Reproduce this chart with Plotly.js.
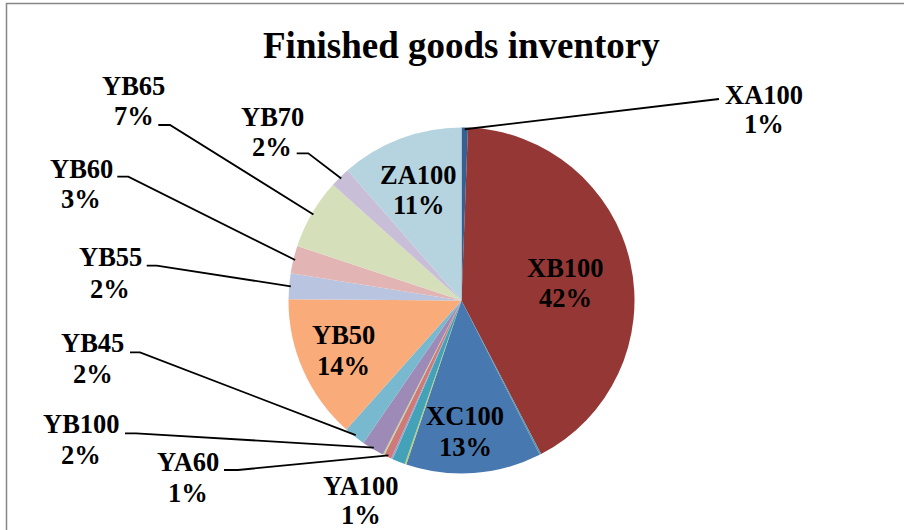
<!DOCTYPE html>
<html>
<head>
<meta charset="utf-8">
<script src="https://cdn.plot.ly/plotly-3.0.1.min.js"></script>
<style>html,body{margin:0;padding:0;background:#fff;}#chart{width:904px;height:530px;}</style>
</head>
<body>
<div id="chart"></div>
<script>
// ---- data ----
const chartTitle = 'Finished goods inventory';
const categories = ['XA100','XB100','sliver 1','XC100','sliver 2','YA100','sliver 3','YA60','sliver 4','YB100','YB45','YB50','YB55','YB60','YB65','YB70','ZA100'];
const shares =     [0.6,    42.0,   0.15,      12.7,   0.15,      1.2,    0.15,      0.7,   0.15,      2.1,    2.0,   13.6,   2.4,   2.6,   6.6,   1.9,   11.5];
const sliceColors = ['#376092','#953735','#4F97AE','#4878B0','#B9CD74','#43A2B7','#8EA6D6','#CF7A78','#C4D39B','#9D8AB6','#78B9CF','#F9AC7A','#B9C5E0','#E2B5B4','#D5DFBA','#C9BED8','#B6D4E0'];
const labelledCategories = ['XA100','XB100','XC100','YA100','YA60','YB100','YB45','YB50','YB55','YB60','YB65','YB70','ZA100'];

// ---- layout helpers (pixel positions of label text; leader start points) ----
const W = 904, H = 530;
const CX = 461.5, CY = 300.5, R = 173;
const FONT = '"Times New Roman", "Liberation Serif", serif';
const labelPlace = {
  XA100: {x:764,   b1:104,   b2:133,   lead:[719,99, 719,99]},
  XB100: {x:565,   b1:277,   b2:307},
  XC100: {x:465.5, b1:425,   b2:456.5},
  YA100: {x:361,   b1:495,   b2:524},
  YA60:  {x:188.3, b1:471.7, b2:502.7, lead:[224,470, 238,470]},
  YB100: {x:81.3,  b1:433.3, b2:464.3, lead:[125,433.3, 136,433.3]},
  YB45:  {x:92.5,  b1:352.7, b2:383,   lead:[130,352.3, 140,352.3]},
  YB50:  {x:343,   b1:344,   b2:375},
  YB55:  {x:110,   b1:266.7, b2:298.3, lead:[146.7,265.7, 156.7,265.7]},
  YB60:  {x:81,    b1:178.3, b2:208,   lead:[117.3,176.7, 128.3,176.7]},
  YB65:  {x:133.5, b1:95,    b2:125,   lead:[158.3,125, 170,125]},
  YB70:  {x:272,   b1:126,   b2:156,   lead:[296.7,153.3, 308.3,153.3]},
  ZA100: {x:418.5, b1:184,   b2:214}
};
const FS = 26.5;
const px = x => x / W;
const py = y => 1 - y / H;

const total = shares.reduce((a, b) => a + b, 0);
const annotations = [];
const shapes = [];

// title
annotations.push({
  text: '<b>' + chartTitle + '</b>', xref:'paper', yref:'paper', x: px(461), y: py(46),
  xanchor:'center', yanchor:'middle', showarrow:false,
  font:{family:FONT, size:37, color:'#000'}
});

let cum = 0;
categories.forEach((cat, i) => {
  const v = shares[i];
  const midAng = (cum + v / 2) / total * 2 * Math.PI;
  cum += v;
  if (!labelledCategories.includes(cat)) return;
  const p = labelPlace[cat];
  const pct = Math.round(v / total * 100) + '%';
  const f = {family:FONT, size:FS, color:'#000'};
  annotations.push({text:'<b>' + cat + '</b>', xref:'paper', yref:'paper', x:px(p.x), y:py(p.b1 - 0.35*FS),
    xanchor:'center', yanchor:'middle', showarrow:false, font:f});
  annotations.push({text:'<b>' + pct + '</b>', xref:'paper', yref:'paper', x:px(p.x), y:py(p.b2 - 0.35*FS),
    xanchor:'center', yanchor:'middle', showarrow:false, font:f});
  if (p.lead) {
    const ex = CX + R * 0.99 * Math.sin(midAng);
    const ey = CY - R * 0.99 * Math.cos(midAng);
    const [x0, y0, x1, y1] = p.lead;
    shapes.push({type:'path', xref:'paper', yref:'paper',
      path:`M ${px(x0)},${py(y0)} L ${px(x1)},${py(y1)} L ${px(ex)},${py(ey)}`,
      line:{color:'#000', width:1.8}});
  }
});

// chart border
shapes.push({type:'rect', xref:'paper', yref:'paper', x0:px(6.5), x1:1.02, y0:-0.02, y1:py(3.5),
  line:{color:'#878787', width:1.5}, layer:'above'});

const trace = {
  type:'pie',
  labels: categories,
  values: shares,
  sort:false,
  direction:'clockwise',
  rotation:0,
  textinfo:'none',
  hoverinfo:'skip',
  marker:{colors:sliceColors, line:{width:0}},
  domain:{x:[px(CX - R), px(CX + R)], y:[py(CY + R), py(CY - R)]},
  showlegend:false
};

Plotly.newPlot('chart', [trace], {
  width:W, height:H,
  margin:{l:0, r:0, t:0, b:0},
  paper_bgcolor:'#fff',
  font:{family:FONT},
  showlegend:false,
  annotations, shapes
}, {displayModeBar:false, staticPlot:true});
</script>
</body>
</html>
